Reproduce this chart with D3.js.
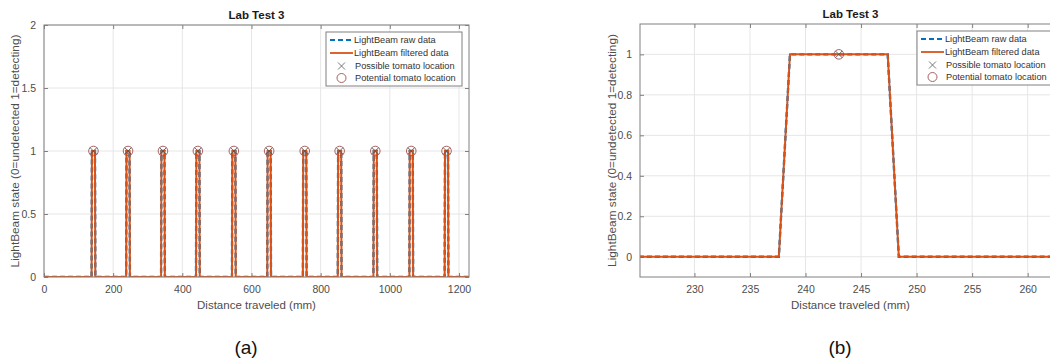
<!DOCTYPE html>
<html>
<head>
<meta charset="utf-8">
<script src="https://cdn.jsdelivr.net/npm/d3@7"></script>
<style>
  body { margin: 0; background: #fff; }
  svg { font-family: "Liberation Sans", Arial, sans-serif; display: block; }
  .tick text { fill: #4d4d4d; }
</style>
</head>
<body>
<svg id="chart" width="1050" height="363"></svg>
<script>
// ---- data ----
const titleText = 'Lab Test 3';
const xLabel = 'Distance traveled (mm)';
const yLabel = 'LightBeam state (0=undetected 1=detecting)';
const legendLabels = ['LightBeam raw data', 'LightBeam filtered data', 'Possible tomato location', 'Potential tomato location'];

// panel (a): pulse edges (mm) for each detection
const aRiseStart = [137.6, 237.6, 338.6, 439.6, 543.6, 645.6, 748.6, 849.6, 952.6, 1056.6, 1158.6];
const aRiseEnd   = [138.6, 238.6, 339.6, 440.6, 544.6, 646.6, 749.6, 850.6, 953.6, 1057.6, 1159.6];
const aFallStart = [147.4, 247.4, 348.4, 449.4, 553.4, 655.4, 758.4, 859.4, 962.4, 1066.4, 1168.4];
const aFallEnd   = [148.4, 248.4, 349.4, 450.4, 554.4, 656.4, 759.4, 860.4, 963.4, 1067.4, 1169.4];
const aTomatoX   = [143, 243, 344, 445, 549, 651, 754, 855, 958, 1062, 1164];
const aXTicks = [0, 200, 400, 600, 800, 1000, 1200];
const aYTicks = [0, 0.5, 1, 1.5, 2];

// panel (b): zoom on the second detection
const bLineX = [225, 237.6, 238.6, 247.4, 248.4, 265];
const bLineY = [0, 0, 1, 1, 0, 0];
const bTomatoX = [243];
const bXTicks = [230, 235, 240, 245, 250, 255, 260];
const bYTicks = [0, 0.2, 0.4, 0.6, 0.8, 1];

const rawColor = '#0072BD';
const filtColor = '#D95319';

// build step points of panel (a) from its edges
const aLine = [[0, 0]];
aRiseStart.forEach((s, i) => {
  aLine.push([s, 0], [aRiseEnd[i], 1], [aFallStart[i], 1], [aFallEnd[i], 0]);
});
aLine.push([1230, 0]);
const bLine = bLineX.map((x, i) => [x, bLineY[i]]);

const svg = d3.select('#chart');

function drawPanel(cfg) {
  const g = svg.append('g');
  const x = d3.scaleLinear().domain(cfg.xDomain).range([cfg.left, cfg.right]);
  const y = d3.scaleLinear().domain(cfg.yDomain).range([cfg.bottom, cfg.top]);
  const clipId = 'clip' + cfg.caption.replace(/\W/g, '');
  g.append('clipPath').attr('id', clipId)
    .append('rect').attr('x', cfg.left).attr('y', cfg.top)
    .attr('width', cfg.right - cfg.left).attr('height', cfg.bottom - cfg.top);

  // grid
  g.selectAll('.gx').data(cfg.xTicks).enter().append('line')
    .attr('x1', d => x(d)).attr('x2', d => x(d))
    .attr('y1', cfg.top).attr('y2', cfg.bottom)
    .attr('stroke', '#e6e6e6').attr('stroke-width', 1);
  g.selectAll('.gy').data(cfg.yTicks).enter().append('line')
    .attr('x1', cfg.left).attr('x2', cfg.right)
    .attr('y1', d => y(d)).attr('y2', d => y(d))
    .attr('stroke', '#e6e6e6').attr('stroke-width', 1);

  // axes (ticks inside, like matlab)
  const fmt = d3.format('~g');
  g.append('g').attr('transform', `translate(0,${cfg.bottom})`)
    .call(d3.axisBottom(x).tickValues(cfg.xTicks).tickSize(-4).tickPadding(9).tickFormat(fmt))
    .call(a => a.selectAll('text').attr('font-size', 10.5))
    .call(a => a.select('.domain').remove())
    .call(a => a.selectAll('line').attr('stroke', '#808080'));
  g.append('g').attr('transform', `translate(0,${cfg.top})`)
    .call(d3.axisTop(x).tickValues(cfg.xTicks).tickSize(-4).tickFormat(''))
    .call(a => a.select('.domain').remove())
    .call(a => a.selectAll('line').attr('stroke', '#808080'));
  g.append('g').attr('transform', `translate(${cfg.left},0)`)
    .call(d3.axisLeft(y).tickValues(cfg.yTicks).tickSize(-4).tickPadding(8).tickFormat(fmt))
    .call(a => a.selectAll('text').attr('font-size', 10.5))
    .call(a => a.select('.domain').remove())
    .call(a => a.selectAll('line').attr('stroke', '#808080'));
  g.append('g').attr('transform', `translate(${cfg.right},0)`)
    .call(d3.axisRight(y).tickValues(cfg.yTicks).tickSize(-4).tickFormat(''))
    .call(a => a.select('.domain').remove())
    .call(a => a.selectAll('line').attr('stroke', '#808080'));

  // data
  const line = d3.line().x(d => x(d[0])).y(d => y(d[1]));
  const plot = g.append('g').attr('clip-path', `url(#${clipId})`);
  plot.append('path').datum(cfg.line).attr('d', line)
    .attr('fill', 'none').attr('stroke', rawColor).attr('stroke-width', 2.4)
    .attr('stroke-dasharray', '5,3');
  plot.append('path').datum(cfg.line).attr('d', line)
    .attr('fill', 'none').attr('stroke', filtColor).attr('stroke-width', 2);

  // markers
  plot.selectAll('.xm').data(cfg.tomato).enter().append('path')
    .attr('d', d => `M${x(d) - 3.5},${y(1) - 3.5}L${x(d) + 3.5},${y(1) + 3.5}M${x(d) - 3.5},${y(1) + 3.5}L${x(d) + 3.5},${y(1) - 3.5}`)
    .attr('stroke', '#555').attr('stroke-width', 0.9).attr('fill', 'none');
  plot.selectAll('.om').data(cfg.tomato).enter().append('circle')
    .attr('cx', d => x(d)).attr('cy', y(1)).attr('r', 4.8)
    .attr('fill', 'none').attr('stroke', '#a05050').attr('stroke-width', 0.9);

  // box
  g.append('rect').attr('x', cfg.left).attr('y', cfg.top)
    .attr('width', cfg.right - cfg.left).attr('height', cfg.bottom - cfg.top)
    .attr('fill', 'none').attr('stroke', '#808080').attr('stroke-width', 1);

  // texts
  const cx = (cfg.left + cfg.right) / 2;
  g.append('text').attr('x', cx).attr('y', cfg.top - 6).attr('text-anchor', 'middle')
    .attr('font-size', 11.5).attr('font-weight', 'bold').attr('fill', '#1a1a1a').text(titleText);
  g.append('text').attr('x', cx).attr('y', cfg.bottom + 32).attr('text-anchor', 'middle')
    .attr('font-size', 11.5).attr('fill', '#4d4d4d').text(xLabel);
  g.append('text')
    .attr('transform', `translate(${cfg.yLabelX},${(cfg.top + cfg.bottom) / 2}) rotate(-90)`)
    .attr('text-anchor', 'middle').attr('font-size', 11.8).attr('fill', '#4d4d4d').text(yLabel);
  g.append('text').attr('x', cfg.captionX).attr('y', 354).attr('text-anchor', 'middle')
    .attr('font-size', 19).attr('fill', '#111').text(cfg.caption);

  // legend
  const lg = g.append('g').attr('transform', `translate(${cfg.legendX},${cfg.top + 7})`);
  lg.append('rect').attr('width', 136).attr('height', 54)
    .attr('fill', '#fff').attr('stroke', '#808080').attr('stroke-width', 1);
  const rows = [8, 21, 34, 46];
  lg.append('line').attr('x1', 4).attr('x2', 27).attr('y1', rows[0]).attr('y2', rows[0])
    .attr('stroke', rawColor).attr('stroke-width', 2.2).attr('stroke-dasharray', '5,3');
  lg.append('line').attr('x1', 4).attr('x2', 27).attr('y1', rows[1]).attr('y2', rows[1])
    .attr('stroke', filtColor).attr('stroke-width', 1.8);
  lg.append('path').attr('d', `M12,${rows[2] - 3.5}L19,${rows[2] + 3.5}M12,${rows[2] + 3.5}L19,${rows[2] - 3.5}`)
    .attr('stroke', '#666').attr('stroke-width', 0.9);
  lg.append('circle').attr('cx', 15.5).attr('cy', rows[3]).attr('r', 4.5)
    .attr('fill', 'none').attr('stroke', '#a05050').attr('stroke-width', 0.9);
  lg.selectAll('.lt').data(legendLabels).enter().append('text')
    .attr('x', (d, i) => i < 2 ? 28 : 29).attr('y', (d, i) => rows[i] + 3.3)
    .attr('font-size', 9.2).attr('fill', '#333').text(d => d);
}

drawPanel({
  left: 44, right: 469, top: 25, bottom: 277,
  xDomain: [0, 1229], yDomain: [0, 2],
  xTicks: aXTicks, yTicks: aYTicks,
  line: aLine, tomato: aTomatoX,
  yLabelX: 19, caption: '(a)', captionX: 246, legendX: 326
});

drawPanel({
  left: 640, right: 1061, top: 24, bottom: 277,
  xDomain: [225.1, 263], yDomain: [-0.1, 1.15],
  xTicks: bXTicks, yTicks: bYTicks,
  line: bLine, tomato: bTomatoX,
  yLabelX: 616, caption: '(b)', captionX: 840, legendX: 917
});
</script>
</body>
</html>
